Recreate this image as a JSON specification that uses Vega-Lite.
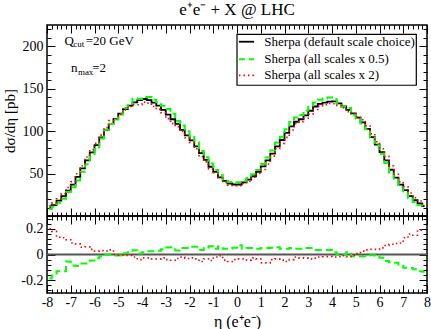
{
  "$schema": "https://vega.github.io/schema/vega-lite/v6.json",
  "padding": {"left": 1, "top": 0, "right": 0, "bottom": 0},
  "spacing": 0,
  "bounds": "flush",
  "config": {
    "view": {"stroke": "black", "strokeWidth": 1.5},
    "font": "Liberation Serif",
    "axis": {"domain": false, "grid": false, "tickColor": "black", "tickWidth": 1, "labelColor": "black", "labelFont": "Liberation Serif", "labelFontSize": 14, "labelOverlap": false, "labelFlush": false, "labelBound": false, "titleFont": "Liberation Serif", "titleFontWeight": "normal", "titleColor": "black"}
  },
  "datasets": {
    "bins": [
      {"eta":-7.9,"d":10.2,"h":8.3,"t":12.2,"rh":-0.187,"rt":0.2},
      {"eta":-7.7,"d":12.9,"h":10.8,"t":15.2,"rh":-0.164,"rt":0.18},
      {"eta":-7.5,"d":18.0,"h":15.7,"t":20.4,"rh":-0.13,"rt":0.135},
      {"eta":-7.3,"d":23.4,"h":20.4,"t":26.4,"rh":-0.13,"rt":0.13},
      {"eta":-7.1,"d":30.0,"h":28.4,"t":33.5,"rh":-0.055,"rt":0.115},
      {"eta":-6.9,"d":37.0,"h":33.8,"t":40.3,"rh":-0.086,"rt":0.09},
      {"eta":-6.7,"d":46.0,"h":41.9,"t":49.8,"rh":-0.09,"rt":0.083},
      {"eta":-6.5,"d":56.0,"h":52.1,"t":59.2,"rh":-0.07,"rt":0.057},
      {"eta":-6.3,"d":65.6,"h":61.0,"t":69.5,"rh":-0.07,"rt":0.06},
      {"eta":-6.1,"d":75.0,"h":71.5,"t":78.0,"rh":-0.047,"rt":0.04},
      {"eta":-5.9,"d":83.5,"h":81.0,"t":85.7,"rh":-0.03,"rt":0.026},
      {"eta":-5.7,"d":92.5,"h":91.3,"t":95.3,"rh":-0.013,"rt":0.03},
      {"eta":-5.5,"d":101.5,"h":101.5,"t":104.1,"rh":0,"rt":0.026},
      {"eta":-5.3,"d":108.5,"h":108.5,"t":112.4,"rh":0,"rt":0.036},
      {"eta":-5.1,"d":114.5,"h":113.6,"t":114.5,"rh":-0.008,"rt":0},
      {"eta":-4.9,"d":120.5,"h":119.5,"t":119.9,"rh":-0.008,"rt":-0.005},
      {"eta":-4.7,"d":126.0,"h":127.3,"t":125.0,"rh":0.01,"rt":-0.008},
      {"eta":-4.5,"d":130.0,"h":132.3,"t":129.0,"rh":0.018,"rt":-0.008},
      {"eta":-4.3,"d":133.8,"h":138.3,"t":131.1,"rh":0.034,"rt":-0.02},
      {"eta":-4.1,"d":136.6,"h":137.7,"t":131.1,"rh":0.008,"rt":-0.04},
      {"eta":-3.9,"d":137.8,"h":140.3,"t":134.2,"rh":0.018,"rt":-0.026},
      {"eta":-3.7,"d":136.6,"h":140.2,"t":133.0,"rh":0.026,"rt":-0.026},
      {"eta":-3.5,"d":133.5,"h":137.0,"t":129.0,"rh":0.026,"rt":-0.034},
      {"eta":-3.3,"d":130.0,"h":133.9,"t":125.6,"rh":0.03,"rt":-0.034},
      {"eta":-3.1,"d":125.0,"h":130.0,"t":121.8,"rh":0.04,"rt":-0.026},
      {"eta":-2.9,"d":119.5,"h":126.1,"t":114.7,"rh":0.055,"rt":-0.04},
      {"eta":-2.7,"d":114.0,"h":120.5,"t":108.9,"rh":0.057,"rt":-0.045},
      {"eta":-2.5,"d":108.5,"h":111.9,"t":105.1,"rh":0.031,"rt":-0.031},
      {"eta":-2.3,"d":101.5,"h":106.6,"t":99.5,"rh":0.05,"rt":-0.02},
      {"eta":-2.1,"d":95.0,"h":99.8,"t":92.1,"rh":0.05,"rt":-0.031},
      {"eta":-1.9,"d":89.0,"h":94.3,"t":86.7,"rh":0.06,"rt":-0.026},
      {"eta":-1.7,"d":82.0,"h":86.9,"t":79.2,"rh":0.06,"rt":-0.034},
      {"eta":-1.5,"d":74.0,"h":76.7,"t":69.9,"rh":0.036,"rt":-0.055},
      {"eta":-1.3,"d":66.0,"h":69.3,"t":63.8,"rh":0.05,"rt":-0.034},
      {"eta":-1.1,"d":58.0,"h":61.8,"t":55.3,"rh":0.065,"rt":-0.047},
      {"eta":-0.9,"d":52.0,"h":54.3,"t":51.0,"rh":0.044,"rt":-0.02},
      {"eta":-0.7,"d":45.5,"h":48.3,"t":45.0,"rh":0.062,"rt":-0.01},
      {"eta":-0.5,"d":41.3,"h":43.1,"t":39.5,"rh":0.044,"rt":-0.044},
      {"eta":-0.3,"d":38.3,"h":40.0,"t":36.2,"rh":0.044,"rt":-0.055},
      {"eta":-0.1,"d":37.1,"h":39.0,"t":35.6,"rh":0.052,"rt":-0.04},
      {"eta":0.1,"d":37.1,"h":39.8,"t":35.8,"rh":0.073,"rt":-0.034},
      {"eta":0.3,"d":39.5,"h":41.2,"t":38.2,"rh":0.044,"rt":-0.034},
      {"eta":0.5,"d":42.8,"h":44.9,"t":40.9,"rh":0.05,"rt":-0.044},
      {"eta":0.7,"d":46.8,"h":49.1,"t":45.6,"rh":0.05,"rt":-0.026},
      {"eta":0.9,"d":52.0,"h":54.3,"t":50.2,"rh":0.044,"rt":-0.034},
      {"eta":1.1,"d":58.5,"h":61.4,"t":54.7,"rh":0.05,"rt":-0.065},
      {"eta":1.3,"d":65.6,"h":68.9,"t":61.3,"rh":0.05,"rt":-0.065},
      {"eta":1.5,"d":73.4,"h":77.2,"t":70.5,"rh":0.052,"rt":-0.04},
      {"eta":1.7,"d":82.0,"h":86.7,"t":79.2,"rh":0.057,"rt":-0.034},
      {"eta":1.9,"d":89.5,"h":93.4,"t":85.6,"rh":0.044,"rt":-0.044},
      {"eta":2.1,"d":98.0,"h":102.3,"t":92.6,"rh":0.044,"rt":-0.055},
      {"eta":2.3,"d":105.5,"h":110.8,"t":101.3,"rh":0.05,"rt":-0.04},
      {"eta":2.5,"d":111.0,"h":115.9,"t":108.8,"rh":0.044,"rt":-0.02},
      {"eta":2.7,"d":114.0,"h":119.0,"t":111.0,"rh":0.044,"rt":-0.026},
      {"eta":2.9,"d":118.5,"h":124.4,"t":115.2,"rh":0.05,"rt":-0.028},
      {"eta":3.1,"d":124.0,"h":130.2,"t":119.8,"rh":0.05,"rt":-0.034},
      {"eta":3.3,"d":129.0,"h":133.6,"t":125.4,"rh":0.036,"rt":-0.028},
      {"eta":3.5,"d":132.0,"h":136.8,"t":129.4,"rh":0.036,"rt":-0.02},
      {"eta":3.7,"d":133.5,"h":138.3,"t":131.1,"rh":0.036,"rt":-0.018},
      {"eta":3.9,"d":134.7,"h":139.5,"t":132.5,"rh":0.036,"rt":-0.016},
      {"eta":4.1,"d":135.0,"h":137.4,"t":132.3,"rh":0.018,"rt":-0.02},
      {"eta":4.3,"d":132.7,"h":132.7,"t":130.3,"rh":0,"rt":-0.018},
      {"eta":4.5,"d":129.0,"h":129.0,"t":127.7,"rh":0,"rt":-0.01},
      {"eta":4.7,"d":125.0,"h":127.3,"t":122.8,"rh":0.018,"rt":-0.018},
      {"eta":4.9,"d":121.0,"h":119.4,"t":120.4,"rh":-0.013,"rt":-0.005},
      {"eta":5.1,"d":116.0,"h":114.5,"t":116.9,"rh":-0.013,"rt":0.008},
      {"eta":5.3,"d":110.4,"h":109.0,"t":113.3,"rh":-0.013,"rt":0.026},
      {"eta":5.5,"d":102.7,"h":102.2,"t":106.4,"rh":-0.005,"rt":0.036},
      {"eta":5.7,"d":93.0,"h":92.5,"t":96.7,"rh":-0.005,"rt":0.04},
      {"eta":5.9,"d":84.0,"h":83.2,"t":87.4,"rh":-0.01,"rt":0.04},
      {"eta":6.1,"d":75.3,"h":73.3,"t":79.2,"rh":-0.026,"rt":0.052},
      {"eta":6.3,"d":65.6,"h":62.3,"t":70.2,"rh":-0.05,"rt":0.07},
      {"eta":6.5,"d":54.5,"h":51.2,"t":58.9,"rh":-0.06,"rt":0.08},
      {"eta":6.7,"d":45.3,"h":42.4,"t":49.2,"rh":-0.065,"rt":0.086},
      {"eta":6.9,"d":37.0,"h":34.1,"t":40.3,"rh":-0.078,"rt":0.09},
      {"eta":7.1,"d":30.4,"h":27.2,"t":34.4,"rh":-0.104,"rt":0.13},
      {"eta":7.3,"d":23.4,"h":20.9,"t":27.1,"rh":-0.106,"rt":0.16},
      {"eta":7.5,"d":18.7,"h":16.6,"t":21.5,"rh":-0.114,"rt":0.15},
      {"eta":7.7,"d":14.8,"h":12.9,"t":17.6,"rh":-0.13,"rt":0.19},
      {"eta":7.9,"d":11.7,"h":10.1,"t":13.9,"rh":-0.135,"rt":0.19}
    ]
  },
  "vconcat": [
    {
      "width": 380,
      "height": 191,
      "title": {"text": "e⁺e⁻ + X @ LHC", "fontSize": 17, "fontWeight": "normal", "font": "Liberation Serif", "color": "black", "anchor": "middle", "offset": 3},
      "data": {"name": "bins"},
      "resolve": {"axis": {"x": "independent", "y": "independent"}},
      "layer": [
        {
          "mark": {"type": "line", "interpolate": "step", "color": "black", "strokeWidth": 1.8, "clip": true},
          "encoding": {
            "x": {"field": "eta", "type": "quantitative", "scale": {"domain": [-8, 8], "nice": false, "zero": false},
              "axis": {"orient": "bottom", "tickCount": 80, "labels": false, "title": null,
                "tickSize": {"condition": {"test": "abs(datum.value - round(datum.value)) < 0.001", "value": -8}, "value": -4}}},
            "y": {"field": "d", "type": "quantitative", "scale": {"domain": [0, 225], "nice": false, "zero": false},
              "axis": {"orient": "left", "tickCount": 23, "title": "dσ/dη [pb]", "titleFontSize": 15, "titlePadding": 5, "labelPadding": 12,
                "labelExpr": "datum.value % 50 === 0 && datum.value > 0 ? '' + datum.value : ''",
                "tickSize": {"condition": {"test": "datum.value % 50 === 0", "value": -8}, "value": -4}}}
          }
        },
        {
          "mark": {"type": "line", "interpolate": "step", "color": "#00ff00", "strokeWidth": 2, "strokeDash": [7, 4], "clip": true},
          "encoding": {
            "x": {"field": "eta", "type": "quantitative",
              "axis": {"orient": "top", "tickCount": 80, "labels": false, "title": null,
                "tickSize": {"condition": {"test": "abs(datum.value - round(datum.value)) < 0.001", "value": -8}, "value": -4}}},
            "y": {"field": "h", "type": "quantitative",
              "axis": {"orient": "right", "tickCount": 23, "labels": false, "title": null,
                "tickSize": {"condition": {"test": "datum.value % 50 === 0", "value": -8}, "value": -4}}}
          }
        },
        {
          "mark": {"type": "line", "interpolate": "step", "color": "#ff0000", "strokeWidth": 1.6, "strokeDash": [1.5, 3], "clip": true},
          "encoding": {
            "x": {"field": "eta", "type": "quantitative", "axis": null},
            "y": {"field": "t", "type": "quantitative", "axis": null}
          }
        },
        {
          "data": {"values": [{}]},
          "mark": {"type": "rect", "fill": "white", "stroke": "black", "strokeWidth": 1.2},
          "encoding": {"x": {"datum": 0, "type": "quantitative", "axis": null}, "x2": {"datum": 7.55}, "y": {"datum": 214, "type": "quantitative", "axis": null}, "y2": {"datum": 154}}
        },
        {
          "data": {"values": [{}]},
          "mark": {"type": "rule", "color": "black", "strokeWidth": 1.8},
          "encoding": {"x": {"datum": 0.08, "type": "quantitative", "axis": null}, "x2": {"datum": 0.72}, "y": {"datum": 205.3, "type": "quantitative", "axis": null}}
        },
        {
          "data": {"values": [{}]},
          "mark": {"type": "rule", "color": "#00ff00", "strokeWidth": 2, "strokeDash": [6, 4]},
          "encoding": {"x": {"datum": 0.08, "type": "quantitative", "axis": null}, "x2": {"datum": 0.72}, "y": {"datum": 184.6, "type": "quantitative", "axis": null}}
        },
        {
          "data": {"values": [{}]},
          "mark": {"type": "rule", "color": "#ff0000", "strokeWidth": 1.6, "strokeDash": [1.5, 3]},
          "encoding": {"x": {"datum": 0.08, "type": "quantitative", "axis": null}, "x2": {"datum": 0.72}, "y": {"datum": 165.7, "type": "quantitative", "axis": null}}
        },
        {
          "data": {"values": [{"label": "Sherpa (default scale choice)"}]},
          "mark": {"type": "text", "align": "left", "baseline": "middle", "fontSize": 13, "color": "black", "font": "Liberation Serif"},
          "encoding": {"text": {"field": "label"}, "x": {"datum": 1.15, "type": "quantitative", "axis": null}, "y": {"datum": 205.3, "type": "quantitative", "axis": null}}
        },
        {
          "data": {"values": [{"label": "Sherpa (all scales x 0.5)"}]},
          "mark": {"type": "text", "align": "left", "baseline": "middle", "fontSize": 13, "color": "black", "font": "Liberation Serif"},
          "encoding": {"text": {"field": "label"}, "x": {"datum": 1.15, "type": "quantitative", "axis": null}, "y": {"datum": 184.6, "type": "quantitative", "axis": null}}
        },
        {
          "data": {"values": [{"label": "Sherpa (all scales x 2)"}]},
          "mark": {"type": "text", "align": "left", "baseline": "middle", "fontSize": 13, "color": "black", "font": "Liberation Serif"},
          "encoding": {"text": {"field": "label"}, "x": {"datum": 1.15, "type": "quantitative", "axis": null}, "y": {"datum": 165.7, "type": "quantitative", "axis": null}}
        },
        {
          "data": {"values": [{"label": "Q"}]},
          "mark": {"type": "text", "align": "left", "baseline": "alphabetic", "fontSize": 13, "color": "black", "font": "Liberation Serif"},
          "encoding": {"text": {"field": "label"}, "x": {"datum": -7.26, "type": "quantitative", "axis": null}, "y": {"datum": 201.4, "type": "quantitative", "axis": null}}
        },
        {
          "data": {"values": [{"label": "cut"}]},
          "mark": {"type": "text", "align": "left", "baseline": "alphabetic", "fontSize": 9, "color": "black", "font": "Liberation Serif"},
          "encoding": {"text": {"field": "label"}, "x": {"datum": -6.89, "type": "quantitative", "axis": null}, "y": {"datum": 198.5, "type": "quantitative", "axis": null}}
        },
        {
          "data": {"values": [{"label": "=20 GeV"}]},
          "mark": {"type": "text", "align": "left", "baseline": "alphabetic", "fontSize": 13, "color": "black", "font": "Liberation Serif"},
          "encoding": {"text": {"field": "label"}, "x": {"datum": -6.37, "type": "quantitative", "axis": null}, "y": {"datum": 201.4, "type": "quantitative", "axis": null}}
        },
        {
          "data": {"values": [{"label": "n"}]},
          "mark": {"type": "text", "align": "left", "baseline": "alphabetic", "fontSize": 13, "color": "black", "font": "Liberation Serif"},
          "encoding": {"text": {"field": "label"}, "x": {"datum": -6.99, "type": "quantitative", "axis": null}, "y": {"datum": 169.6, "type": "quantitative", "axis": null}}
        },
        {
          "data": {"values": [{"label": "max"}]},
          "mark": {"type": "text", "align": "left", "baseline": "alphabetic", "fontSize": 9, "color": "black", "font": "Liberation Serif"},
          "encoding": {"text": {"field": "label"}, "x": {"datum": -6.7, "type": "quantitative", "axis": null}, "y": {"datum": 166.0, "type": "quantitative", "axis": null}}
        },
        {
          "data": {"values": [{"label": "=2"}]},
          "mark": {"type": "text", "align": "left", "baseline": "alphabetic", "fontSize": 13, "color": "black", "font": "Liberation Serif"},
          "encoding": {"text": {"field": "label"}, "x": {"datum": -6.1, "type": "quantitative", "axis": null}, "y": {"datum": 169.6, "type": "quantitative", "axis": null}}
        }
      ]
    },
    {
      "width": 380,
      "height": 77,
      "data": {"name": "bins"},
      "resolve": {"axis": {"x": "independent", "y": "independent"}},
      "layer": [
        {
          "data": {"values": [{}]},
          "mark": {"type": "rule", "color": "#555555", "strokeWidth": 2},
          "encoding": {"y": {"datum": 0, "type": "quantitative", "axis": null}}
        },
        {
          "mark": {"type": "line", "interpolate": "step", "color": "#00ff00", "strokeWidth": 2, "strokeDash": [7, 4], "clip": true},
          "encoding": {
            "x": {"field": "eta", "type": "quantitative", "scale": {"domain": [-8, 8], "nice": false, "zero": false},
              "axis": {"orient": "bottom", "tickCount": 80, "title": "η (e⁺e⁻)", "titleFontSize": 16, "titlePadding": 0, "labelPadding": 10,
                "labelExpr": "abs(datum.value - round(datum.value)) < 0.001 ? '' + round(datum.value) : ''",
                "tickSize": {"condition": {"test": "abs(datum.value - round(datum.value)) < 0.001", "value": -8}, "value": -4}}},
            "y": {"field": "rh", "type": "quantitative", "scale": {"domain": [-0.3, 0.3], "nice": false, "zero": false},
              "axis": {"orient": "left", "values": [-0.28, -0.24, -0.2, -0.16, -0.12, -0.08, -0.04, 0, 0.04, 0.08, 0.12, 0.16, 0.2, 0.24, 0.28], "title": null, "labelPadding": 12,
                "labelExpr": "abs(datum.value * 5 - round(datum.value * 5)) < 0.001 ? (abs(datum.value) < 0.001 ? '0' : '' + round(datum.value * 10) / 10) : ''",
                "tickSize": {"condition": {"test": "abs(datum.value * 5 - round(datum.value * 5)) < 0.001", "value": -8}, "value": -4}}}
          }
        },
        {
          "mark": {"type": "line", "interpolate": "step", "color": "#ff0000", "strokeWidth": 1.6, "strokeDash": [1.5, 3], "clip": true},
          "encoding": {
            "x": {"field": "eta", "type": "quantitative",
              "axis": {"orient": "top", "tickCount": 80, "labels": false, "title": null,
                "tickSize": {"condition": {"test": "abs(datum.value - round(datum.value)) < 0.001", "value": -8}, "value": -4}}},
            "y": {"field": "rt", "type": "quantitative",
              "axis": {"orient": "right", "values": [-0.28, -0.24, -0.2, -0.16, -0.12, -0.08, -0.04, 0, 0.04, 0.08, 0.12, 0.16, 0.2, 0.24, 0.28], "labels": false, "title": null,
                "tickSize": {"condition": {"test": "abs(datum.value * 5 - round(datum.value * 5)) < 0.001", "value": -8}, "value": -4}}}
          }
        }
      ]
    }
  ]
}
